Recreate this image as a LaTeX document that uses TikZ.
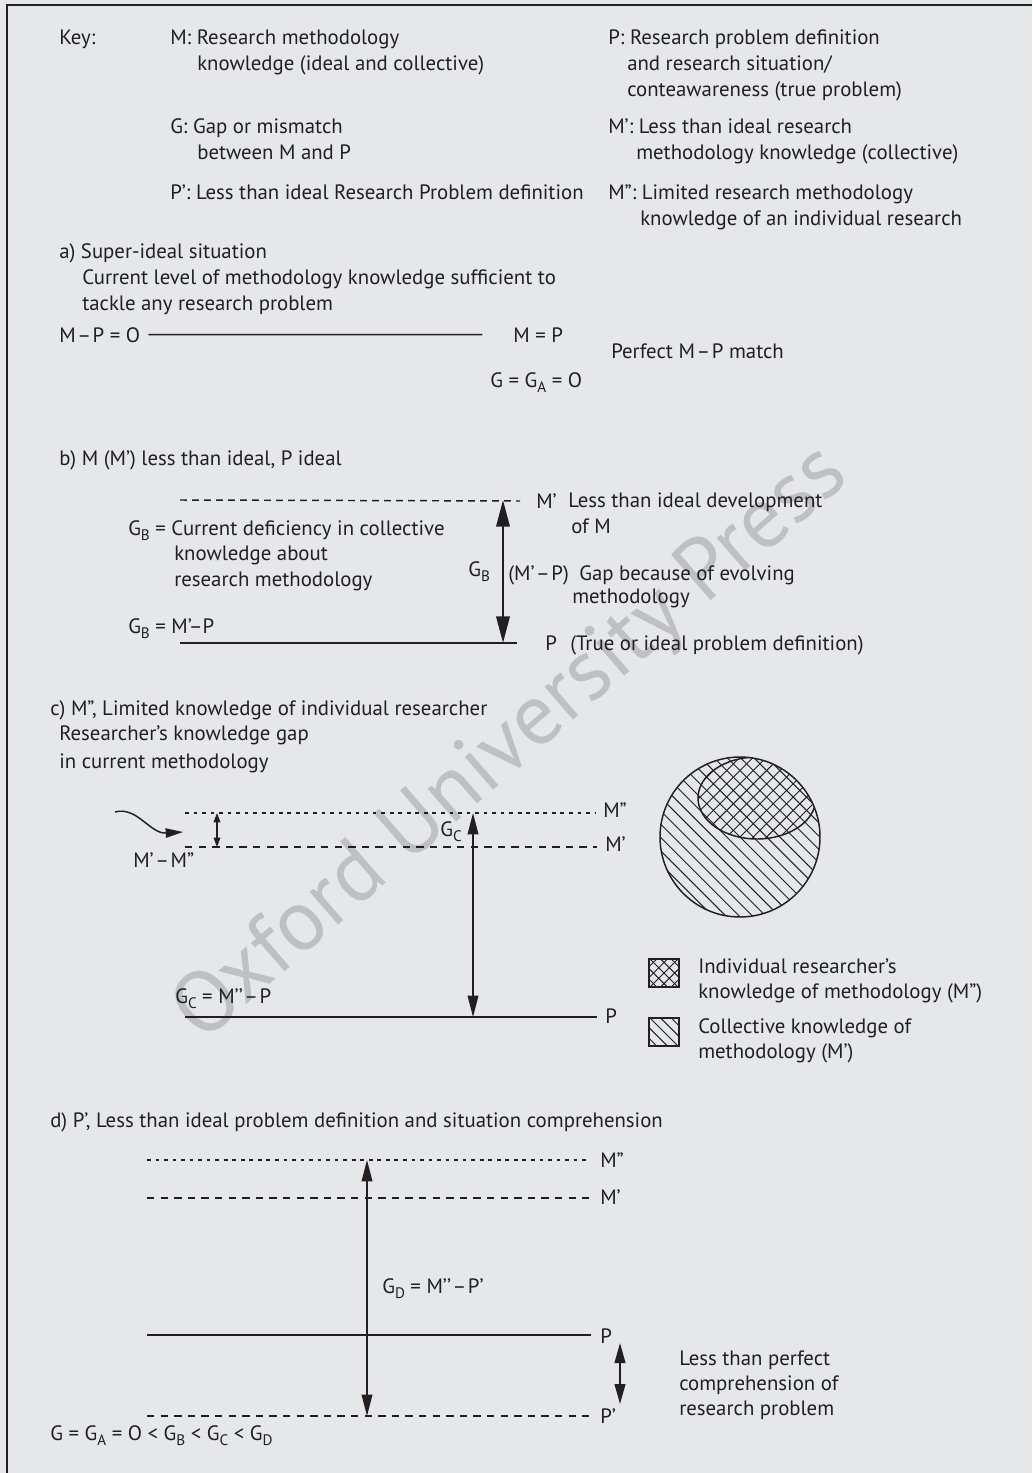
\documentclass[tikz,border=0pt]{standalone}
\usepackage{fontspec}
\setmainfont{PT Sans}
\usetikzlibrary{arrows.meta}
\definecolor{bg}{HTML}{E6E7E9}
\definecolor{ink}{HTML}{231F20}
\definecolor{wm}{HTML}{BFC0C2}
\newcommand\lowsub[1]{\raisebox{-0.28em}{\fontsize{11.4}{11.4}\selectfont #1}}
\newcommand\dsh{\kern1.2pt–\kern1.2pt}

\begin{document}
\begin{tikzpicture}[x=0.75pt,y=-0.75pt,
  txt/.style={anchor=base west,inner sep=0pt,text=ink,font=\fontsize{15.6}{18}\selectfont},
  lab/.style={anchor=west,inner sep=0pt,text=ink,font=\fontsize{15.6}{18}\selectfont},
  solidline/.style={draw=ink,line width=1.1pt},
  dashone/.style={draw=ink,line width=1.1pt,dash pattern=on 5.6pt off 4.6pt},
  dashtwo/.style={draw=ink,line width=1.1pt,dash pattern=on 2.8pt off 3.6pt},
  dashb/.style={draw=ink,line width=1.1pt,dash pattern=on 5.2pt off 3.8pt},
  boldgap/.style={draw=ink,line width=1.9pt,>={Triangle[length=20pt,width=10pt]},<->},
  gaparrow/.style={draw=ink,line width=1.1pt,>={Triangle[length=16pt,width=8pt]},<->},
  tinygap/.style={draw=ink,line width=1pt,>={Triangle[length=7pt,width=5pt]},<->},
  shortgap/.style={draw=ink,line width=1.5pt,>={Triangle[length=15pt,width=8pt]},<->},
  curvy/.style={draw=ink,line width=1.1pt,-{Triangle[length=13pt,width=7pt]}},
  hatch/.style={draw=ink,line width=0.7pt},
  legbox/.style={draw=ink,line width=1.1pt,minimum width=22.5pt,minimum height=21pt,inner sep=0pt}
]
% canvas and frame
\useasboundingbox (0,0) rectangle (1032,1473);
\fill[bg] (0,0) rectangle (1032,1473);
\draw[ink,line width=1.9pt] (7,1473) -- (7,5) -- (1032,5);

% watermark
\node[rotate=41,text=wm,inner sep=0pt,font=\fontsize{65}{65}\selectfont] (wmark) at (512,745) {Oxford University Press};

% ---------------- key ----------------
\node[txt] (key) at (59,45) {Key:};
\node[txt] (kM1) at (170,45) {M: Research methodology};
\node[txt] (kM2) at (197,71) {knowledge (ideal and collective)};
\node[txt] (kG1) at (170,134) {G: Gap or mismatch};
\node[txt] (kG2) at (197,160) {between M and P};
\node[txt] (kPp) at (170,200) {P’: Less than ideal Research Problem definition};
\node[txt] (kP1) at (608,45) {P: Research problem definition};
\node[txt] (kP2) at (627,71) {and research situation/};
\node[txt] (kP3) at (627,97) {conteawareness (true problem)};
\node[txt] (kMp1) at (608,134) {M’: Less than ideal research};
\node[txt] (kMp2) at (636,160) {methodology knowledge (collective)};
\node[txt] (kMpp1) at (608,200) {M”: Limited research methodology};
\node[txt] (kMpp2) at (640,226) {knowledge of an individual research};

% ---------------- a) ----------------
\node[txt] (aT1) at (59,258) {a) Super-ideal situation};
\node[txt] (aT2) at (82,284) {Current level of methodology knowledge sufficient to};
\node[txt] (aT3) at (82,310) {tackle any research problem};
\node[txt] (aEq) at (59,342) {M\dsh P = O};
\node[txt] (aMP) at (513,342) {M = P};
\node[txt] (aMatch) at (611,358) {Perfect M\dsh P match};
\node[txt] (aG) at (490,387) {G = G\lowsub{A} = O};
\draw[solidline] ([xshift=6pt]aEq.east) -- ([xshift=-23pt]aMP.west);

% ---------------- b) ----------------
\node[txt] (bT) at (59,465) {b) M (M’) less than ideal, P ideal};
\node[txt] (bD1) at (128,535) {G\lowsub{B} = Current deficiency in collective};
\node[txt] (bD2) at (174,560) {knowledge about};
\node[txt] (bD3) at (174,586) {research methodology};
\node[txt] (bD4) at (128,633) {G\lowsub{B} = M’–P};
\node[lab] (bMp) at (536,501) {M’};
\node[txt] (bMpT1) at (568,507) {Less than ideal development};
\node[txt] (bMpT2) at (571,533) {of M};
\node[txt] (bGB) at (468,576) {G\lowsub{B}};
\node[txt] (bMP) at (508,580) {(M’\dsh P)};
\node[txt] (bEv1) at (579,580) {Gap because of evolving};
\node[txt] (bEv2) at (572,603) {methodology};
\node[lab] (bP) at (545,643) {P};
\node[txt] (bPT) at (570,650) {(True or ideal problem definition)};
\coordinate (bL1) at (180,500);
\coordinate (bL2) at (180,643);
\draw[dashb] (bL1) -- ([xshift=-12pt]bMp.west);
\draw[solidline] (bL2) -- ([xshift=-21pt]bP.west);
\coordinate (bTop) at (503,500);
\coordinate (bBot) at (503,643);
\draw[boldgap] (bTop) -- (bBot);

% ---------------- c) ----------------
\node[txt] (cT) at (50,715) {c) M”, Limited knowledge of individual researcher};
\node[txt] (cR1) at (59,740) {Researcher’s knowledge gap};
\node[txt] (cR2) at (59,768) {in current methodology};
\node[lab] (cMpp) at (603,810) {M”};
\node[lab] (cMp) at (605,844) {M’};
\node[lab] (cP) at (605,1016) {P};
\coordinate (cL1) at (185,813);
\coordinate (cL2) at (185,847);
\coordinate (cL3) at (185,1017);
\draw[dashtwo] (cL1) -- ([xshift=-5pt]cMpp.west |- cL1);
\draw[dashone] (cL2) -- ([xshift=-6pt]cMp.west |- cL2);
\draw[solidline] (cL3) -- ([xshift=-6pt]cP.west |- cL3);
\coordinate (cS1) at (217,813);
\coordinate (cS2) at (217,847);
\draw[tinygap] (cS1) -- (cS2);
\coordinate (cCurveA) at (115,812);
\coordinate (cCurveB) at (183,832);
\draw[curvy] (cCurveA) .. controls (137,806) and (150,834) .. (cCurveB);
\node[txt] (cMM) at (133,867) {M’\dsh M”};
\coordinate (cTop) at (473,813);
\coordinate (cBot) at (473,1017);
\draw[gaparrow] (cTop) -- (cBot);
\node[txt] (cGC) at (440,836) {G\lowsub{C}};
\node[txt] (cEq) at (175,1003) {G\lowsub{C} = M’’\dsh P};

% circle of collective and individual knowledge
\begin{scope}
  \clip (740,837) circle[radius=80];
  \foreach \k in {-18,...,18}
    \draw[hatch] ({740+\k*6.65-130},{837-\k*6.65-130}) -- ++(260,260);
  \fill[bg] (757,798) ellipse[x radius=59,y radius=41];
  \begin{scope}
    \clip (757,798) ellipse[x radius=59,y radius=41];
    \foreach \k in {-18,...,18} {
      \draw[hatch] ({740+\k*6.65-130},{837-\k*6.65-130}) -- ++(260,260);
      \draw[hatch] ({740+\k*6.65-130},{837+\k*6.65+130}) -- ++(260,-260);
    }
  \end{scope}
  \draw[ink,line width=1.1pt] (757,798) ellipse[x radius=59,y radius=41];
\end{scope}
\draw[ink,line width=1.1pt] (740,837) circle[radius=80];

% legend
\node[legbox] (lgA) at (664,973) {};
\node[legbox] (lgB) at (664,1032) {};
\begin{scope}
  \clip (lgA.south west) rectangle (lgA.north east);
  \foreach \k in {-6,...,6} {
    \draw[hatch] ({664+\k*5.3-40},{973-\k*5.3-40}) -- ++(80,80);
    \draw[hatch] ({664+\k*5.3-40},{973+\k*5.3+40}) -- ++(80,-80);
  }
\end{scope}
\begin{scope}
  \clip (lgB.south west) rectangle (lgB.north east);
  \foreach \k in {-6,...,6}
    \draw[hatch] ({664+\k*5.3-40},{1032-\k*5.3-40}) -- ++(80,80);
\end{scope}
\node[legbox] at (lgA) {};
\node[legbox] at (lgB) {};
\node[txt] (lgA1) at (698,973) {Individual researcher’s};
\node[txt] (lgA2) at (698,998) {knowledge of methodology (M”)};
\node[txt] (lgB1) at (698,1033) {Collective knowledge of};
\node[txt] (lgB2) at (698,1058) {methodology (M’)};

% ---------------- d) ----------------
\node[txt] (dT) at (50,1127) {d) P’, Less than ideal problem definition and situation comprehension};
\node[lab] (dMpp) at (600,1160) {M”};
\node[lab] (dMp) at (600,1197) {M’};
\node[lab] (dP) at (600,1336) {P};
\node[lab] (dPp) at (600,1416) {P’};
\coordinate (dL1) at (147,1160);
\coordinate (dL2) at (147,1198);
\coordinate (dL3) at (147,1335);
\coordinate (dL4) at (147,1416);
\draw[dashtwo] (dL1) -- ([xshift=-9pt]dMpp.west |- dL1);
\draw[dashone] (dL2) -- ([xshift=-8pt]dMp.west |- dL2);
\draw[solidline] (dL3) -- ([xshift=-7pt]dP.west |- dL3);
\draw[dashone] (dL4) -- ([xshift=-8pt]dPp.west |- dL4);
\coordinate (dTop) at (367,1160);
\coordinate (dBot) at (367,1416);
\draw[gaparrow] (dTop) -- (dBot);
\node[txt] (dGD) at (382,1293) {G\lowsub{D} = M’’\dsh P’};
\coordinate (dS1) at (620,1343);
\coordinate (dS2) at (620,1404);
\draw[shortgap] (dS1) -- (dS2);
\node[txt] (dC1) at (679,1365) {Less than perfect};
\node[txt] (dC2) at (679,1390) {comprehension of};
\node[txt] (dC3) at (679,1415) {research problem};
\node[txt] (dSum) at (50,1440) {G = G\lowsub{A} = O < G\lowsub{B} < G\lowsub{C} < G\lowsub{D}};
\end{tikzpicture}
\end{document}
